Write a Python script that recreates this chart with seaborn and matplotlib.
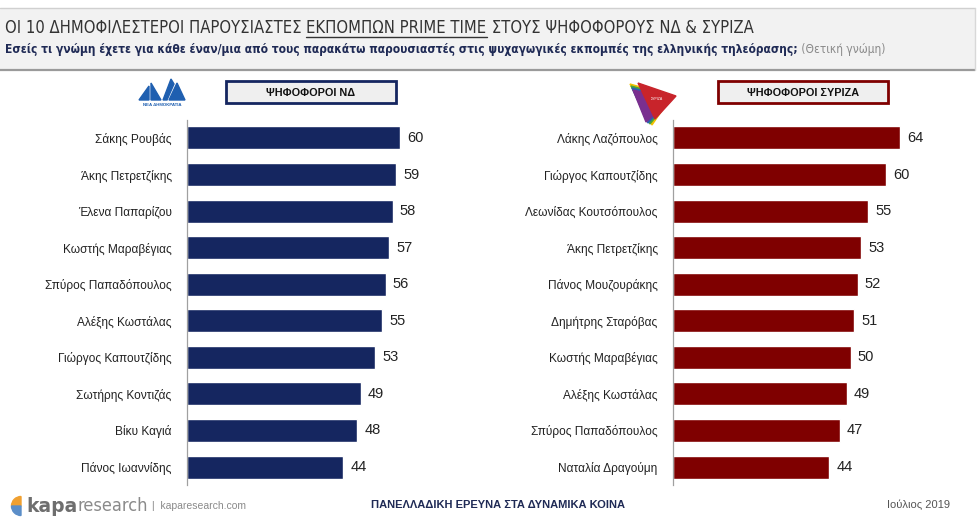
import matplotlib
matplotlib.use("Agg")
import matplotlib.pyplot as plt
import seaborn as sns
import pandas as pd
from matplotlib.patches import Rectangle, Polygon, Wedge

# ---------------- data ----------------
nd_names = ["Σάκης Ρουβάς", "Άκης Πετρετζίκης", "Έλενα Παπαρίζου", "Κωστής Μαραβέγιας",
            "Σπύρος Παπαδόπουλος", "Αλέξης Κωστάλας", "Γιώργος Καπουτζίδης",
            "Σωτήρης Κοντιζάς", "Βίκυ Καγιά", "Πάνος Ιωαννίδης"]
nd_values = [60, 59, 58, 57, 56, 55, 53, 49, 48, 44]

syriza_names = ["Λάκης Λαζόπουλος", "Γιώργος Καπουτζίδης", "Λεωνίδας Κουτσόπουλος",
                "Άκης Πετρετζίκης", "Πάνος Μουζουράκης", "Δημήτρης Σταρόβας",
                "Κωστής Μαραβέγιας", "Αλέξης Κωστάλας", "Σπύρος Παπαδόπουλος",
                "Ναταλία Δραγούμη"]
syriza_values = [64, 60, 55, 53, 52, 51, 50, 49, 47, 44]

title_a = "ΟΙ 10 ΔΗΜΟΦΙΛΕΣΤΕΡΟΙ ΠΑΡΟΥΣΙΑΣΤΕΣ "
title_b = "ΕΚΠΟΜΠΩΝ PRIME TIME"
title_c = " ΣΤΟΥΣ ΨΗΦΟΦΟΡΟΥΣ ΝΔ & ΣΥΡΙΖΑ"
subtitle_a = "Εσείς τι γνώμη έχετε για κάθε έναν/μια από τους παρακάτω παρουσιαστές στις ψυχαγωγικές εκπομπές της ελληνικής τηλεόρασης;"
subtitle_b = " (Θετική γνώμη)"
nd_header = "ΨΗΦΟΦΟΡΟΙ ΝΔ"
syriza_header = "ΨΗΦΟΦΟΡΟΙ ΣΥΡΙΖΑ"
footer_center = "ΠΑΝΕΛΛΑΔΙΚΗ ΕΡΕΥΝΑ ΣΤΑ ΔΥΝΑΜΙΚΑ ΚΟΙΝΑ"
footer_right = "Ιούλιος 2019"

NAVY = "#152660"
RED = "#7f0000"

sns.set_theme(style="white")
plt.rcParams["font.family"] = ["Liberation Sans", "DejaVu Sans"]

W, H = 980, 520
fig = plt.figure(figsize=(W / 100, H / 100), dpi=100)
fig.patch.set_facecolor("white")

# decoration axes in pixel coordinates
deco = fig.add_axes([0, 0, 1, 1], zorder=0)
deco.set_xlim(0, W)
deco.set_ylim(H, 0)
deco.axis("off")

# header band
deco.add_patch(Rectangle((0, 8), 975, 62, facecolor="#f2f2f2", edgecolor="none"))
deco.plot([0, 975], [8, 8], color="#d0d0d0", lw=1)
deco.plot([0, 975], [70, 70], color="#9a9a9a", lw=1.6)
deco.plot([975, 975], [8, 70], color="#d8d8d8", lw=1)

# title in pieces with underline
fig.canvas.draw()
renderer = fig.canvas.get_renderer()
x = 5
ty = 28
pieces = [(title_a, False), (title_b, True), (title_c, False)]
for txt, underline in pieces:
    t = deco.text(x, ty, txt, fontsize=11.9, color="#333333", va="center", ha="left",
                  family="DejaVu Sans", fontstretch="condensed")
    bb = t.get_window_extent(renderer=renderer)
    w = bb.width
    if underline:
        deco.plot([x, x + w], [ty + 9, ty + 9], color="#333333", lw=1)
    x += w

t = deco.text(5, 50, subtitle_a, fontsize=8.6, color="#1f2a55", va="center", ha="left",
              family="DejaVu Sans", fontstretch="condensed", fontweight="bold")
bb = t.get_window_extent(renderer=renderer)
deco.text(5 + bb.width, 50, subtitle_b, fontsize=8.6, color="#8a8a8a", va="center",
          ha="left", family="DejaVu Sans", fontstretch="condensed")

# header boxes
deco.add_patch(Rectangle((226, 81), 170, 22, facecolor="#efefef", edgecolor=NAVY, lw=2))
deco.text(311, 92.5, nd_header, fontsize=7.8, color="#111111", ha="center", va="center",
          fontweight="bold")
deco.add_patch(Rectangle((718, 81), 170, 22, facecolor="#efefef", edgecolor=RED, lw=2))
deco.text(803, 92.5, syriza_header, fontsize=7.8, color="#111111", ha="center",
          va="center", fontweight="bold")

# ND logo (simplified)
ndb = "#1f5fb0"
deco.add_patch(Polygon([[139, 100], [149, 86], [149, 100]], color=ndb))
deco.add_patch(Polygon([[151, 100], [151, 83], [161, 100]], color=ndb))
deco.add_patch(Polygon([[163, 100], [171, 79], [174, 84], [167, 100]], color=ndb))
deco.add_patch(Polygon([[169, 100], [177, 83], [185, 100]], color=ndb))
deco.text(162, 104.5, "ΝΕΑ ΔΗΜΟΚΡΑΤΙΑ", fontsize=3.2, color=ndb, ha="center",
          va="center", fontweight="bold")

# SYRIZA logo (simplified)
cols = ["#f2c200", "#4aa43a", "#2a62b0", "#7a2f8f"]
for i, c in enumerate(cols):
    deco.add_patch(Polygon([[630 + i, 84 + i * 2], [672, 96 + i], [652 - i * 2, 125 - i]],
                           color=c))
deco.add_patch(Polygon([[638, 83], [676, 96], [655, 119]], color="#c8242b"))
deco.text(657, 99, "ΣΥΡΙΖΑ", fontsize=2.5, color="white", ha="center", va="center")

# footer (y axis inverted: 180-270 is upper-left on screen)
deco.add_patch(Wedge((21, 506), 9.5, 180, 270, color="#f0a030"))
deco.add_patch(Wedge((21, 506), 9.5, 90, 180, color="#5b8ec8"))
t = deco.text(26, 506, "kapa", fontsize=13.5, color="#6e6e6e", fontweight="bold",
              ha="left", va="center", family="DejaVu Sans")
bb = t.get_window_extent(renderer=renderer)
t2 = deco.text(26 + bb.width, 506, "research", fontsize=13, color="#8a8a8a",
               ha="left", va="center", family="DejaVu Sans", fontstretch="condensed",
               fontweight="light")
bb2 = t2.get_window_extent(renderer=renderer)
deco.text(26 + bb.width + bb2.width + 4, 506, "|  kaparesearch.com", fontsize=7.5,
          color="#8a8a8a", ha="left", va="center")
deco.text(498, 505, footer_center, fontsize=8, color="#1f2a55", fontweight="bold",
          ha="center", va="center")
deco.text(918, 505, footer_right, fontsize=8, color="#555555", ha="center", va="center")

# ---------------- bar charts ----------------
PX = 3.55  # pixels per unit
XMAX = 70
top_px, bottom_px = 119.7, 485.3


def make_axes(x0):
    return fig.add_axes([x0 / W, (H - bottom_px) / H, XMAX * PX / W,
                         (bottom_px - top_px) / H], zorder=2)


def draw(ax, names, values, color):
    df = pd.DataFrame({"name": names, "value": values})
    sns.barplot(data=df, x="value", y="name", orient="h", color=color, width=0.63,
                saturation=1, ax=ax)
    ax.set_xlim(0, XMAX)
    ax.set_ylim(len(names) - 0.5, -0.5)
    ax.patch.set_alpha(0)
    for s in ["top", "right", "bottom"]:
        ax.spines[s].set_visible(False)
    ax.spines["left"].set_color("#a0a0a0")
    ax.spines["left"].set_linewidth(0.9)
    ax.set_xticks([])
    ax.set_xlabel("")
    ax.set_ylabel("")
    ax.tick_params(axis="y", which="major", length=0, pad=11, labelsize=8.6,
                   labelcolor="#222222")
    ax.set_yticks([i - 0.5 for i in range(len(names) + 1)], minor=True)
    ax.tick_params(axis="y", which="minor", length=4, width=0.9, color="#a0a0a0",
                   direction="out")
    for c in ax.containers:
        ax.bar_label(c, labels=[str(v) for v in values], padding=5, fontsize=10.5,
                     color="#222222")


ax1 = make_axes(187)
draw(ax1, nd_names, nd_values, NAVY)
ax2 = make_axes(673)
draw(ax2, syriza_names, syriza_values, RED)

fig.savefig("out.png", dpi=100)
